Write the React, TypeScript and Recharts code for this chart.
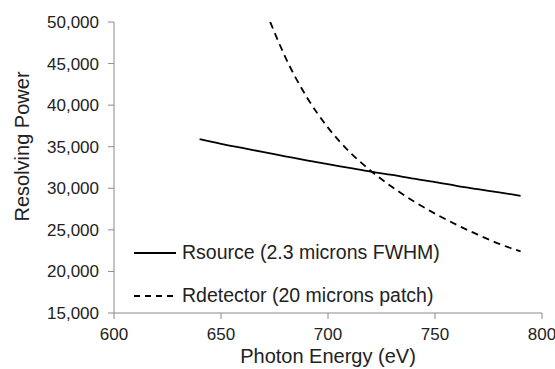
import React from "react";
import { LineChart, Line, XAxis, YAxis } from "recharts";

const sourceEnergy = [640, 650, 660, 670, 680, 690, 700, 710, 720, 730, 740, 750, 760, 770, 780, 790];
const sourceValues = [35900, 35350, 34850, 34350, 33850, 33350, 32900, 32450, 32000, 31600, 31150, 30750, 30300, 29900, 29500, 29100];

const detectorEnergy = [673, 680, 690, 700, 710, 720, 730, 740, 750, 760, 770, 780, 790];
const detectorValues = [50000, 45800, 41000, 37300, 34400, 32100, 30150, 28450, 26950, 25620, 24420, 23320, 22400];

const xTicks = [600, 650, 700, 750, 800];
const yTicks = [15000, 20000, 25000, 30000, 35000, 40000, 45000, 50000];

const sourceName = "Rsource (2.3 microns FWHM)";
const detectorName = "Rdetector (20 microns patch)";

const sourceData = sourceEnergy.map((e, i) => ({ e, v: sourceValues[i] }));
const detectorData = detectorEnergy.map((e, i) => ({ e, v: detectorValues[i] }));

const FONT = "'Liberation Sans', Arial, sans-serif";
const AXIS = "#8a8a8a";
const TEXT = "#222";

const LegendContent = () => (
  <div style={{ position: "absolute", left: 133, top: 231, fontFamily: FONT, fontSize: 19.5, color: TEXT }}>
    {[
      { name: sourceName, dash: undefined },
      { name: detectorName, dash: "6 5" },
    ].map((it, i) => (
      <div key={i} style={{ display: "flex", alignItems: "center", height: 43 }}>
        <svg width={44} height={6} style={{ marginRight: 5 }}>
          <line x1={1} y1={3} x2={43} y2={3} stroke="#000" strokeWidth={1.8} strokeDasharray={it.dash} />
        </svg>
        <span style={{ whiteSpace: "nowrap" }}>{it.name}</span>
      </div>
    ))}
  </div>
);

export default function App() {
  return (
    <div style={{ position: "absolute", left: 0, top: 0, width: 555, height: 369, background: "#fff" }}>
      <LineChart width={555} height={369} margin={{ top: 22, right: 13, bottom: 0, left: 0 }}>
        <XAxis
          dataKey="e"
          type="number"
          domain={[600, 800]}
          ticks={xTicks}
          allowDuplicatedCategory={false}
          height={56}
          stroke={AXIS}
          tickSize={6}
          tickMargin={9}
          tick={{ fill: TEXT, fontSize: 17, fontFamily: FONT }}
          tickLine={{ stroke: AXIS }}
          label={{
            content: (p: any) => {
              const vb = p.viewBox;
              return (
                <text x={vb.x + vb.width / 2} y={vb.y + 50} textAnchor="middle" fill={TEXT} fontSize={20} fontFamily={FONT}>
                  Photon Energy (eV)
                </text>
              );
            },
          }}
        />
        <YAxis
          type="number"
          domain={[15000, 50000]}
          ticks={yTicks}
          width={114}
          stroke={AXIS}
          tickSize={6}
          tickMargin={9}
          tick={{ fill: TEXT, fontSize: 17, fontFamily: FONT }}
          tickLine={{ stroke: AXIS }}
          tickFormatter={(v: number) => v.toLocaleString("en-US")}
          allowDataOverflow
          label={{
            content: (p: any) => {
              const vb = p.viewBox;
              const cx = vb.x + 22;
              const cy = vb.y + vb.height / 2 - 21;
              return (
                <text x={cx} y={cy} transform={`rotate(-90 ${cx} ${cy})`} textAnchor="middle" dominantBaseline="central" fill={TEXT} fontSize={20} fontFamily={FONT}>
                  Resolving Power
                </text>
              );
            },
          }}
        />
        <Line
          data={sourceData}
          dataKey="v"
          name={sourceName}
          type="monotone"
          stroke="#000"
          strokeWidth={1.8}
          dot={false}
          activeDot={false}
          isAnimationActive={false}
        />
        <Line
          data={detectorData}
          dataKey="v"
          name={detectorName}
          type="monotone"
          stroke="#000"
          strokeWidth={1.8}
          strokeDasharray="7 5"
          dot={false}
          activeDot={false}
          isAnimationActive={false}
        />
      </LineChart>
      <LegendContent />
    </div>
  );
}
